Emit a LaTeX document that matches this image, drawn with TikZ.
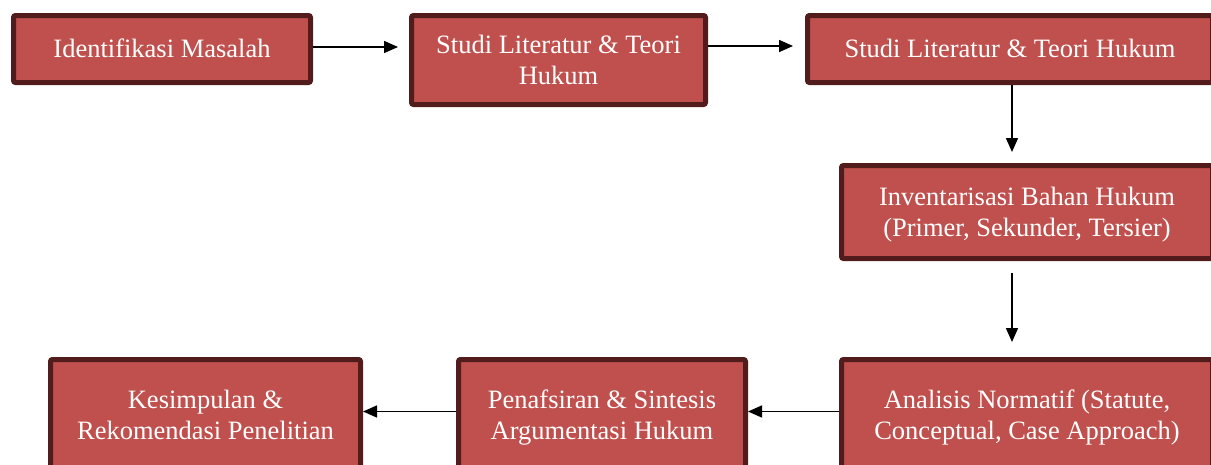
\documentclass[tikz,border=0pt]{standalone}
\usepackage{fontspec}
\setmainfont{Liberation Serif}
\usetikzlibrary{arrows.meta}
\definecolor{boxfill}{HTML}{C0504D}
\definecolor{boxline}{HTML}{521C1C}
\newcommand\lowtxt[1]{\raisebox{-2.5pt}[\height][\depth]{\begin{tabular}{@{}c@{}}#1\end{tabular}}}
\tikzset{
  stepbox/.style={draw=boxline, fill=boxfill, line width=5pt, rounded corners=2pt,
    inner sep=0pt, align=center, text=white,
    font=\fontsize{26.5pt}{31pt}\selectfont},
  arr/.style={line width=1.5pt, -{Triangle[length=14pt,width=12pt]}}
}
\begin{document}
\begin{tikzpicture}[x=1pt,y=-1pt]
\useasboundingbox (0,0) rectangle (1211,464);
\clip (0,0) rectangle (1211,464);
\node[stepbox, minimum width=297pt, minimum height=67pt] (b1) at (162,49) {\lowtxt{Identifikasi Masalah}};
\node[stepbox, minimum width=294pt, minimum height=89pt] (b2) at (558.5,60) {\lowtxt{Studi Literatur \& Teori\\Hukum}};
\node[stepbox, minimum width=405pt, minimum height=67pt] (b3) at (1010,49) {\lowtxt{Studi Literatur \& Teori Hukum}};
\node[stepbox, minimum width=371pt, minimum height=93pt] (b4) at (1027,212) {\lowtxt{Inventarisasi Bahan Hukum\\(Primer, Sekunder, Tersier)}};
\node[stepbox, minimum width=371pt, minimum height=112pt] (b5) at (1027,415.5) {\lowtxt{Analisis Normatif (Statute,\\Conceptual, Case Approach)}};
\node[stepbox, minimum width=287pt, minimum height=112pt] (b6) at (602,415.5) {\lowtxt{Penafsiran \& Sintesis\\Argumentasi Hukum}};
\node[stepbox, minimum width=310pt, minimum height=112pt] (b7) at (205.5,415.5) {\lowtxt{Kesimpulan \&\\Rekomendasi Penelitian}};
\draw[arr, shorten >=11pt] ([yshift=2pt]b1.east) -- ([yshift=2pt]b2.west |- b1.east);
\draw[arr, shorten >=12pt] ([yshift=3pt]b2.east |- b3.west) -- ([yshift=3pt]b3.west);
\draw[arr, shorten >=11pt] ([xshift=2pt]b3.south) -- ([xshift=2pt]b3.south |- b4.north);
\draw[arr, shorten <=12pt, shorten >=15pt] ([xshift=2pt]b3.south |- b4.south) -- ([xshift=2pt]b3.south |- b5.north);
\draw[arr] ([yshift=4pt]b5.west) -- ([yshift=4pt]b6.east);
\draw[arr] ([yshift=4pt]b6.west) -- ([yshift=4pt]b7.east);
\end{tikzpicture}
\end{document}
